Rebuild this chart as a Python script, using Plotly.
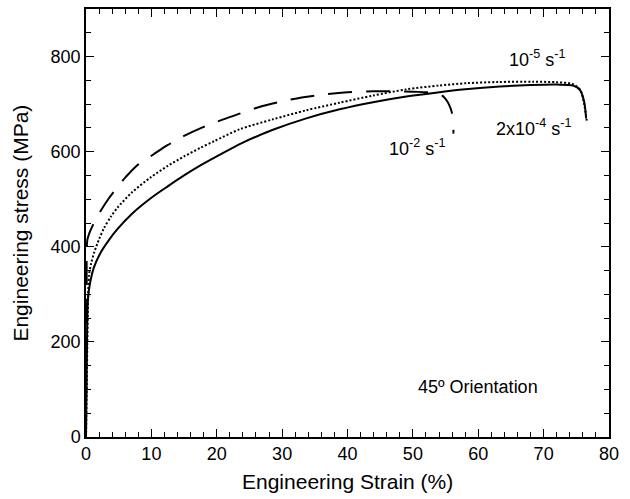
import plotly.graph_objects as go

# 2x10^-4 s^-1 (solid)
strain_a = [0, 0.15, 0.3, 0.6, 1.2, 2.25, 3.5, 4.8, 7, 9.9, 12.5, 15, 17.5, 20, 24, 28.6, 33.7, 38.8,
            43.9, 49, 53.5, 58, 63.3, 68, 72, 74.5, 75.6, 76.2, 76.5]
stress_a = [0, 200, 290, 322, 356, 388, 414, 437, 469, 502, 527, 550, 571, 590, 619, 646, 670, 689,
            704, 716, 724, 731, 737, 740, 741, 739, 729, 705, 670]

# 10^-5 s^-1 (dotted)
strain_b = [0, 0.15, 0.3, 0.46, 0.8, 1.2, 2, 2.75, 3.8, 4.8, 7, 9.9, 12.5, 15, 17.5, 19.6, 23.5, 28.6,
            33.7, 38.8, 43.9, 49, 54, 58.2, 63, 68.4, 72, 74.5, 75.6, 76.2, 76.6]
stress_b = [0, 150, 280, 340, 366, 386, 416, 439, 463, 482, 514, 546, 570, 590, 608, 622, 647, 668,
            687, 703, 718, 731, 739, 744, 746.5, 747, 746, 742, 730, 700, 665]

# 10^-2 s^-1 (dashed)
strain_c = [0, 0.1, 0.2, 0.5, 1, 2, 3.5, 5, 6.1, 7.8, 10.4, 12.4, 15, 18, 21, 23.5, 26.5, 29.7, 33,
            36.8, 40, 43.9, 47, 50, 53, 54.5, 55.3, 55.8, 56.0, None, 56.2, 56.2]
stress_c = [0, 300, 414, 428, 444, 470, 502, 529, 547, 571, 595, 613, 633, 652, 668, 680, 694, 705, 714,
            721, 725, 727, 727, 726, 724, 718, 705, 690, 680, None, 646, 638]

labels = ["10<sup>-5</sup> s<sup>-1</sup>", "2x10<sup>-4</sup> s<sup>-1</sup>",
          "10<sup>-2</sup> s<sup>-1</sup>", "45º Orientation"]
label_x = [69.0, 68.5, 50.6, 59.9]
label_y = [795, 650, 608, 105]

FONT = "Liberation Sans, Arial, sans-serif"

fig = go.Figure()
fig.add_trace(go.Scatter(x=strain_a, y=stress_a, mode="lines",
                         line=dict(color="black", width=2, shape="spline", smoothing=0.8),
                         showlegend=False))
fig.add_trace(go.Scatter(x=strain_b, y=stress_b, mode="lines",
                         line=dict(color="black", width=2, dash="2px,2px", shape="spline", smoothing=0.8),
                         showlegend=False))
fig.add_trace(go.Scatter(x=strain_c, y=stress_c, mode="lines", connectgaps=False,
                         line=dict(color="black", width=2, dash="24px,14px", shape="spline", smoothing=0.8),
                         showlegend=False))

for t, x, y in zip(labels, label_x, label_y):
    fig.add_annotation(x=x, y=y, text=t, showarrow=False, xref="x", yref="y",
                       font=dict(family=FONT, size=18, color="black"))

# axis titles
fig.add_annotation(x=0.5, y=-0.104, xref="paper", yref="paper", yanchor="middle",
                   text="Engineering Strain (%)", showarrow=False,
                   font=dict(family=FONT, size=21, color="black"))
fig.add_annotation(x=-0.127, y=0.5, xref="paper", yref="paper", xanchor="center",
                   text="Engineering stress (MPa)", showarrow=False, textangle=-90,
                   font=dict(family=FONT, size=21, color="black"))

axis_common = dict(showline=True, linecolor="black", linewidth=1.5, mirror="allticks",
                   ticks="inside", ticklen=8, tickwidth=1.2, tickcolor="black",
                   showgrid=False, zeroline=False,
                   tickfont=dict(family=FONT, size=18, color="black"))

fig.update_xaxes(range=[0, 80], dtick=10, tick0=0,
                 minor=dict(dtick=2, ticks="inside", ticklen=5, tickcolor="black", tickwidth=1),
                 **axis_common)
fig.update_yaxes(range=[0, 900], dtick=200, tick0=0,
                 minor=dict(dtick=50, ticks="inside", ticklen=5, tickcolor="black", tickwidth=1),
                 **axis_common)

fig.update_layout(width=630, height=499, margin=dict(l=86, r=21, t=9, b=62, autoexpand=False),
                  plot_bgcolor="white", paper_bgcolor="white",
                  font=dict(family=FONT, color="black"))

fig.write_html("out.html")
